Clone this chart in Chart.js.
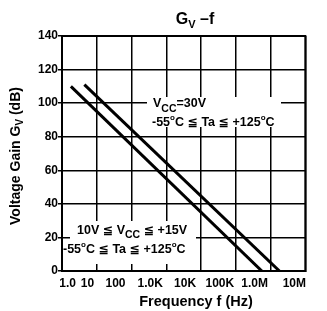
<!DOCTYPE html>
<html><head><meta charset="utf-8">
<script src="https://cdn.jsdelivr.net/npm/chart.js@4/dist/chart.umd.min.js"></script>
<style>html,body{margin:0;padding:0;background:#fff}#wrap{width:327px;height:311px}</style>
</head><body><div id="wrap"><canvas id="c" width="327" height="311"></canvas></div>
<script>
// ---- data ----
const xTickValues = [1, 10, 100, 1e3, 1e4, 1e5, 1e6, 1e7];
const xTickLabels = ['1.0', '10', '100', '1.0K', '10K', '100K', '1.0M', '10M'];
const yTickValues = [0, 20, 40, 60, 80, 100, 120, 140];
const vcc15Freq = [1.8, 560000];      // 10V <= Vcc <= 15V
const vcc15Gain = [110, 0];
const vcc30Freq = [4.4, 1800000];     // Vcc = 30V
const vcc30Gain = [111, 0];

const FONT = '"Liberation Sans", Arial, "DejaVu Sans", sans-serif';
const f = (s) => 'bold ' + s + 'px ' + FONT;

function toPts(xs, ys) { return xs.map((x, i) => ({x: x, y: ys[i]})); }

// draw text made of parts [text, size, dy]
function drawRich(ctx, parts, x, y, align) {
  let w = 0;
  parts.forEach(p => { ctx.font = f(p[1]); w += ctx.measureText(p[0]).width; });
  let cx = align === 'center' ? x - w / 2 : (align === 'right' ? x - w : x);
  ctx.textAlign = 'left';
  ctx.textBaseline = 'alphabetic';
  parts.forEach(p => {
    ctx.font = f(p[1]);
    ctx.fillText(p[0], cx, y + (p[2] || 0));
    cx += ctx.measureText(p[0]).width;
  });
}

const deco = {
  id: 'deco',
  beforeDatasetsDraw(chart) {
    const ctx = chart.ctx;
    ctx.save();
    ctx.fillStyle = '#fff';
    ctx.fillRect(147, 97, 134, 30);
    ctx.fillRect(70, 221, 126, 43);
    ctx.restore();
  },
  afterDraw(chart) {
    const ctx = chart.ctx, a = chart.chartArea;
    ctx.save();
    ctx.strokeStyle = '#000';
    ctx.lineWidth = 2;
    ctx.strokeRect(a.left, a.top, a.right - a.left, a.bottom - a.top);
    ctx.fillStyle = '#000';
    // title
    drawRich(ctx, [['G', 16], ['V', 11, 4], [' \u2013f', 16]], 195, 24, 'center');
    // upper annotation
    drawRich(ctx, [['V', 12.5], ['CC', 10.5, 5], ['=30V', 12.5]], 153, 107, 'left');
    drawRich(ctx, [['-55', 12.5], ['o', 8, -6], ['C \u2266 Ta \u2266 +125', 12.5], ['o', 8, -6], ['C', 12.5]], 152, 126, 'left');
    // lower annotation
    drawRich(ctx, [['10V \u2266 V', 12.5], ['CC', 10.5, 4], [' \u2266 +15V', 12.5]], 77, 234, 'left');
    drawRich(ctx, [['-55', 12.5], ['o', 8, -6], ['C \u2266 Ta \u2266 +125', 12.5], ['o', 8, -6], ['C', 12.5]], 63, 253, 'left');
    // x title
    drawRich(ctx, [['Frequency f (Hz)', 14.5]], 196, 306, 'center');
    // y title
    ctx.translate(20, 156);
    ctx.rotate(-Math.PI / 2);
    drawRich(ctx, [['Voltage Gain G', 14], ['V', 10, 3], [' (dB)', 14]], 0, 0, 'center');
    ctx.restore();
  }
};

new Chart(document.getElementById('c'), {
  type: 'line',
  data: {
    datasets: [
      {data: toPts(vcc15Freq, vcc15Gain), borderColor: '#000', borderWidth: 3, pointRadius: 0, tension: 0},
      {data: toPts(vcc30Freq, vcc30Gain), borderColor: '#000', borderWidth: 3, pointRadius: 0, tension: 0}
    ]
  },
  options: {
    responsive: false,
    animation: false,
    devicePixelRatio: 1,
    layout: {padding: {left: 0, right: 13, top: 36, bottom: 0}},
    plugins: {legend: {display: false}, tooltip: {enabled: false}, title: {display: false}},
    scales: {
      x: {
        type: 'logarithmic',
        min: 1, max: 1e7,
        afterBuildTicks: (s) => { s.ticks = xTickValues.map(v => ({value: v})); },
        afterFit: (s) => { s.height = 40; },
        grid: {color: '#000', lineWidth: 1.5, drawTicks: false},
        border: {display: true, color: '#000', width: 2},
        ticks: {
          autoSkip: false, maxRotation: 0, minRotation: 0, color: '#000',
          font: {family: FONT, size: 12, weight: 'bold'},
          padding: 5, labelOffset: -16,
          callback: function (v, i) {
            const lab = xTickLabels[i];
            if (i === 0) return ' '.repeat(13) + lab;
            if (i === 1) return ' '.repeat(4) + lab;
            if (i === xTickLabels.length - 1) return ' '.repeat(3) + lab;
            return lab;
          }
        }
      },
      y: {
        min: 0, max: 140,
        afterBuildTicks: (s) => { s.ticks = yTickValues.map(v => ({value: v})); },
        afterFit: (s) => { s.width = 62; },
        grid: {color: '#000', lineWidth: 1.5, tickLength: 4},
        border: {display: true, color: '#000', width: 2},
        ticks: {color: '#000', font: {family: FONT, size: 12, weight: 'bold'}, padding: 0}
      }
    }
  },
  plugins: [deco]
});
</script>
</body></html>
